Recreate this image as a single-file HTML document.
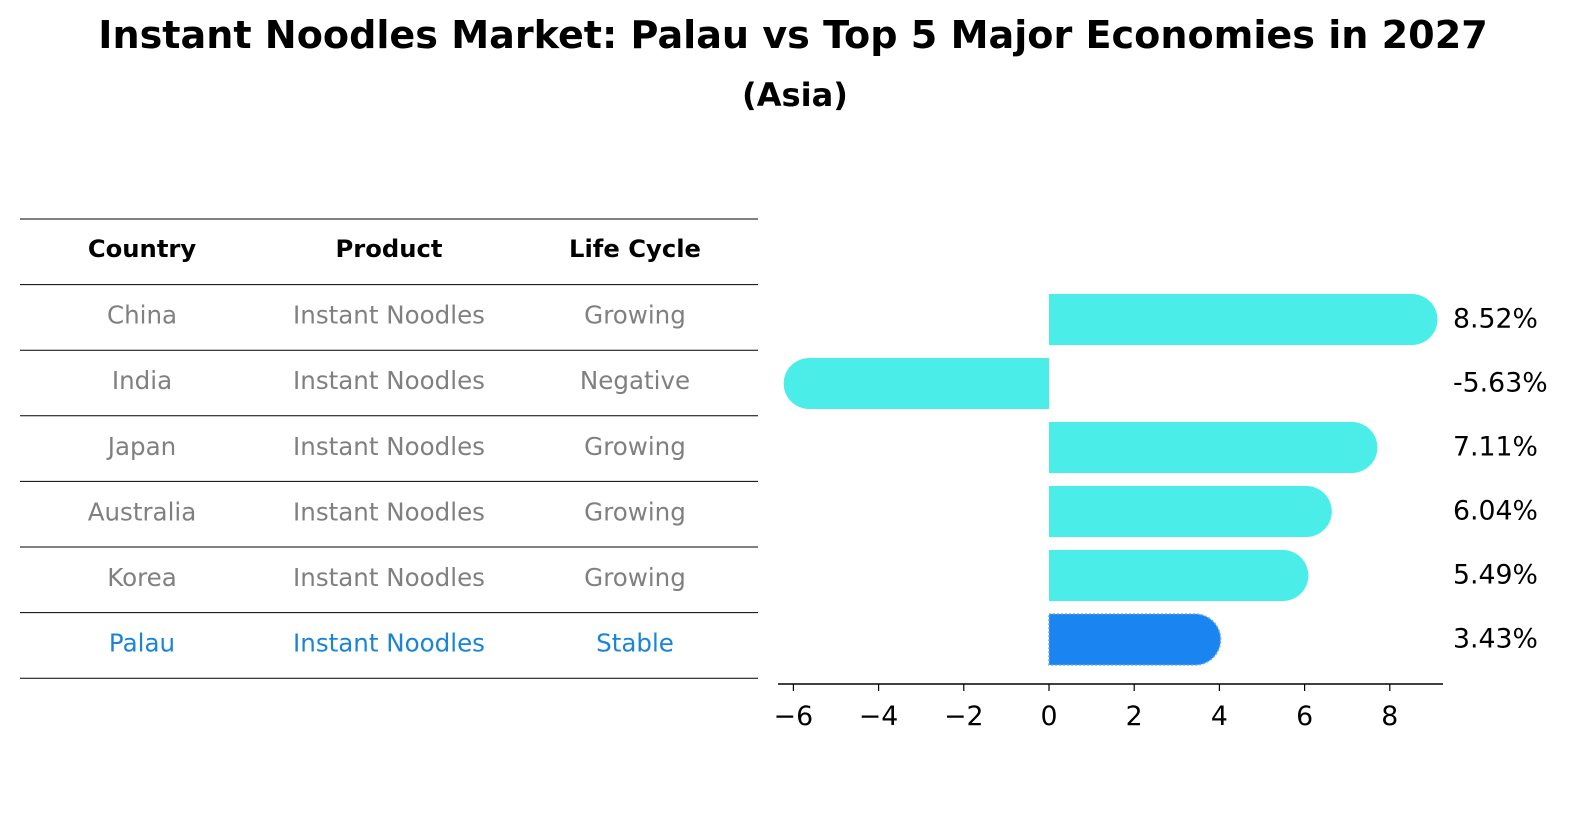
<!DOCTYPE html>
<html><head><meta charset="utf-8"><style>
body{margin:0;background:#fff;}
svg{display:block;font-family:"DejaVu Sans","Liberation Sans",sans-serif;}
</style></head><body>
<svg id="chart" width="1596" height="823" viewBox="0 0 1596 823">
<text id="title" x="793" y="48" text-anchor="middle" font-size="27" font-weight="bold">Instant Noodles Market: Palau vs Top 5 Major Economies in 2027</text>
<text id="subtitle" x="795" y="106" text-anchor="middle" font-size="21" font-weight="bold">(Asia)</text>
<g id="table"></g>
<g id="bars"></g>
</svg>
<script>
const countries=["China","India","Japan","Australia","Korea","Palau"];
const products=["Instant Noodles","Instant Noodles","Instant Noodles","Instant Noodles","Instant Noodles","Instant Noodles"];
const lifeCycles=["Growing","Negative","Growing","Growing","Growing","Stable"];
const growthValues=[8.52,-5.63,7.11,6.04,5.49,3.43];
const xTicks=[-6,-4,-2,0,2,4,6,8];
const NS="http://www.w3.org/2000/svg";
function mk(tag,attrs,parent){const e=document.createElementNS(NS,tag);for(const k in attrs)e.setAttribute(k,attrs[k]);parent.appendChild(e);return e;}
function fit(el,target){const w=el.getComputedTextLength();if(w>0){const fs=parseFloat(el.getAttribute('font-size'));return fs*target/w;}return null;}
const tbl=document.getElementById('table');
const bars=document.getElementById('bars');
const colX=[142,389,635];
const rowY=i=>219+65.6*i;
// calibrate font sizes
const cal=mk('text',{x:-500,y:-500,'font-size':16},tbl);cal.textContent="Instant Noodles";
const cellFs=fit(cal,192)||15.5;
cal.setAttribute('font-weight','bold');cal.textContent="Product";
const headFs=fit(cal,107)||15.5;
cal.removeAttribute('font-weight');cal.setAttribute('font-size',20);cal.textContent="8.52%";
const valFs=fit(cal,85)||19;
tbl.removeChild(cal);
const ttl=document.getElementById('title');const tf=fit(ttl,1390);if(tf)ttl.setAttribute('font-size',tf);
const st=document.getElementById('subtitle');const sf=fit(st,106);if(sf)st.setAttribute('font-size',sf);
for(let i=0;i<=7;i++){const l=mk('line',{x1:20,x2:758,y1:rowY(i),y2:rowY(i),stroke:'#000','stroke-width':1},tbl);

}
["Country","Product","Life Cycle"].forEach((h,j)=>{const t=mk('text',{x:colX[j],y:rowY(0)+38,'text-anchor':'middle','font-size':headFs,'font-weight':'bold'},tbl);t.textContent=h;

});
countries.forEach((c,i)=>{const isP=c==="Palau";const col=isP?'#1a84d8':'#808080';
[c,products[i],lifeCycles[i]].forEach((v,j)=>{const t=mk('text',{x:colX[j],y:rowY(i+1)+39,'text-anchor':'middle','font-size':cellFs,fill:col},tbl);t.textContent=v;

});});
const x0=1049,ppu=42.6;
const xs=v=>x0+v*ppu;
const barY=i=>294+64*i, bh=51, r=25.5;
growthValues.forEach((v,i)=>{const isP=countries[i]==="Palau";const col=isP?'#1a84f0':'#4aede8';
const y=barY(i);const xe=xs(v);
const dir=v>=0?1:-1;
const p=mk('path',{d:`M${x0},${y} L${xe},${y} A${r},${r} 0 0 ${dir>0?1:0} ${xe},${y+bh} L${x0},${y+bh} Z`,fill:col},bars);
if(isP){p.setAttribute('stroke','#6aa8e8');p.setAttribute('stroke-dasharray','2,2');p.setAttribute('stroke-width','1.5');}


const t=mk('text',{x:1453,y:y+bh/2+8,'font-size':valFs},bars);t.textContent=v.toFixed(2)+'%';

});
const ax=mk('line',{x1:778,x2:1443,y1:684,y2:684,stroke:'#000','stroke-width':1.5},bars);


xTicks.forEach(v=>{const tk=mk('line',{x1:xs(v),x2:xs(v),y1:684,y2:691,stroke:'#000','stroke-width':1.2},bars);


const t=mk('text',{x:xs(v),y:725,'text-anchor':'middle','font-size':valFs},bars);t.textContent=v<0?'−'+Math.abs(v):String(v);

});
</script>
</body></html>
